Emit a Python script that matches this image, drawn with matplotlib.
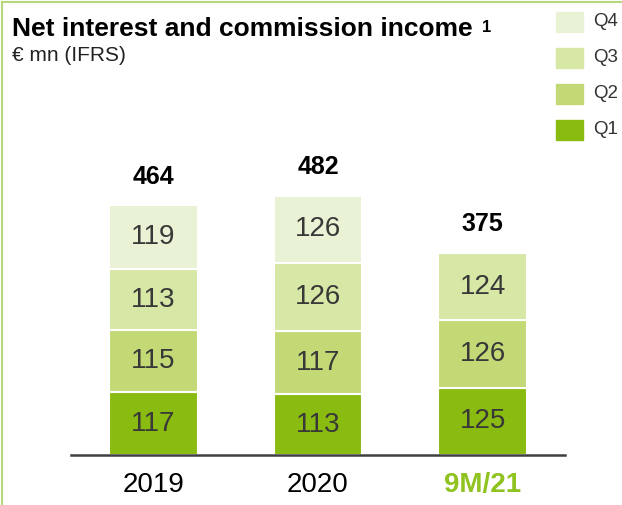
import matplotlib
matplotlib.use("Agg")
import matplotlib.pyplot as plt
import matplotlib.patches as mpatches
from matplotlib.lines import Line2D
import numpy as np

plt.rcParams['font.family'] = ['Liberation Sans', 'DejaVu Sans']

# data
periods = ["2019", "2020", "9M/21"]
quarters = ["Q1", "Q2", "Q3", "Q4"]
q1 = [117, 113, 125]
q2 = [115, 117, 126]
q3 = [113, 126, 124]
q4 = [119, 126, 0]
totals = [464, 482, 375]

colors = ["#8abb10", "#c3d976", "#d7e7a6", "#e9f2d4"]

W, H = 622, 505
fig = plt.figure(figsize=(W / 100, H / 100), dpi=100)
ax = fig.add_axes([71 / W, 50 / H, 494 / W, 323 / H])

x = np.arange(len(periods))
series = [q1, q2, q3, q4]
bottom = np.zeros(len(periods))
for vals, col in zip(series, colors):
    vals = np.array(vals, dtype=float)
    ax.bar(x, vals, 0.54, bottom=bottom, color=col,
           edgecolor="white", linewidth=1.5)
    for xi, b, v in zip(x, bottom, vals):
        if v > 0:
            ax.text(xi, b + v / 2, str(int(v)), ha="center", va="center",
                    fontsize=20, color="#383838")
    bottom = bottom + vals

for xi, t in zip(x, totals):
    ax.text(xi, t + 31, str(t), ha="center", va="bottom", fontsize=18,
            fontweight="bold", color="black")

ax.set_xlim(-0.5, 2.5)
ax.set_ylim(0, 600)
ax.set_xticks(x)
ax.set_xticklabels(periods, fontsize=20)
ax.tick_params(axis="x", length=0, pad=12)
ax.get_xticklabels()[2].set_color("#8fc31f")
ax.get_xticklabels()[2].set_fontweight("bold")
ax.set_yticks([])
for s in ["top", "right", "left"]:
    ax.spines[s].set_visible(False)
ax.spines["bottom"].set_color("#404040")
ax.spines["bottom"].set_linewidth(1.8)

# title
fig.text(12 / W, 1 - 36 / H, "Net interest and commission income",
         fontsize=19, fontweight="bold", va="baseline", color="black")
fig.text(482 / W, 1 - 32 / H, "1", fontsize=12, fontweight="bold",
         va="baseline", color="black")
fig.text(12 / W, 1 - 61 / H, "€ mn (IFRS)", fontsize=15, va="baseline",
         color="#222222")

# legend (top to bottom: Q4..Q1)
for i, (lab, col) in enumerate(zip(quarters[::-1], colors[::-1])):
    yc = 22 + i * 36
    fig.add_artist(mpatches.Rectangle((556 / W, 1 - (yc + 10) / H), 27 / W, 20 / H,
                                      transform=fig.transFigure, color=col))
    fig.text(593 / W, 1 - yc / H, lab, fontsize=13.5, va="center",
             color="#333333")

# frame lines (left and top)
fig.add_artist(Line2D([2 / W, 2 / W], [0, 1 - 2 / H], transform=fig.transFigure,
                      color="#b5d87a", linewidth=1.5))
fig.add_artist(Line2D([2 / W, 1], [1 - 2 / H, 1 - 2 / H], transform=fig.transFigure,
                      color="#b5d87a", linewidth=1.5))

fig.savefig("out.png", dpi=100)
